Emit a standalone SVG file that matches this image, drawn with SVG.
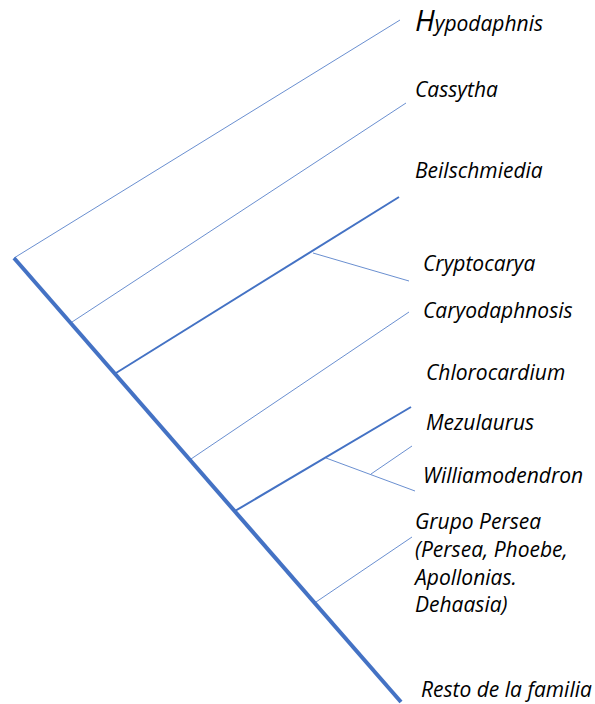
<svg xmlns="http://www.w3.org/2000/svg" width="595" height="704" viewBox="0 0 595 704">
<style>
.thin{stroke:#4472C4;stroke-width:0.8;fill:none;stroke-linecap:butt}
.mid{stroke:#4472C4;stroke-width:2;fill:none}
.trunk{stroke:#4472C4;stroke-width:4;fill:none}
text{font-family:"Open Sans","Liberation Sans",sans-serif;font-style:italic;font-size:21px;fill:#000}
</style>
<rect width="595" height="704" fill="#fff"/>
<g id="connectors">
<line class="trunk" x1="14" y1="258" x2="401" y2="702"/>
<line class="thin" x1="14" y1="258" x2="400" y2="20"/>
<line class="thin" x1="72" y1="322" x2="406" y2="103"/>
<line class="mid" x1="116" y1="373" x2="399" y2="197"/>
<line class="thin" x1="313" y1="253" x2="409" y2="281"/>
<line class="thin" x1="191" y1="459" x2="409" y2="312"/>
<line class="mid" x1="235" y1="511" x2="411" y2="407"/>
<line class="thin" x1="326" y1="458" x2="415" y2="491"/>
<line class="thin" x1="371" y1="474" x2="412" y2="446"/>
<line class="thin" x1="316" y1="602" x2="412" y2="537"/>
</g>
<g id="n-hypodaphnis"><text x="415" y="31"><tspan font-size="29">H</tspan>ypodaphnis</text></g>
<g id="n-cassytha"><text x="415" y="97">Cassytha</text></g>
<g id="n-beilschmiedia"><text x="415" y="178">Beilschmiedia</text></g>
<g id="n-cryptocarya"><text x="423" y="271">Cryptocarya</text></g>
<g id="n-caryodaphnosis"><text x="423" y="318">Caryodaphnosis</text></g>
<g id="n-chlorocardium"><text x="426" y="380">Chlorocardium</text></g>
<g id="n-mezulaurus"><text x="426" y="430">Mezulaurus</text></g>
<g id="n-williamodendron"><text x="423" y="483">Williamodendron</text></g>
<g id="n-persea"><text x="415" y="529">Grupo Persea</text><text x="415" y="557">(Persea, Phoebe,</text><text x="415" y="585">Apollonias.</text><text x="415" y="612">Dehaasia)</text></g>
<g id="n-resto"><text x="421" y="697">Resto de la familia</text></g>
</svg>
